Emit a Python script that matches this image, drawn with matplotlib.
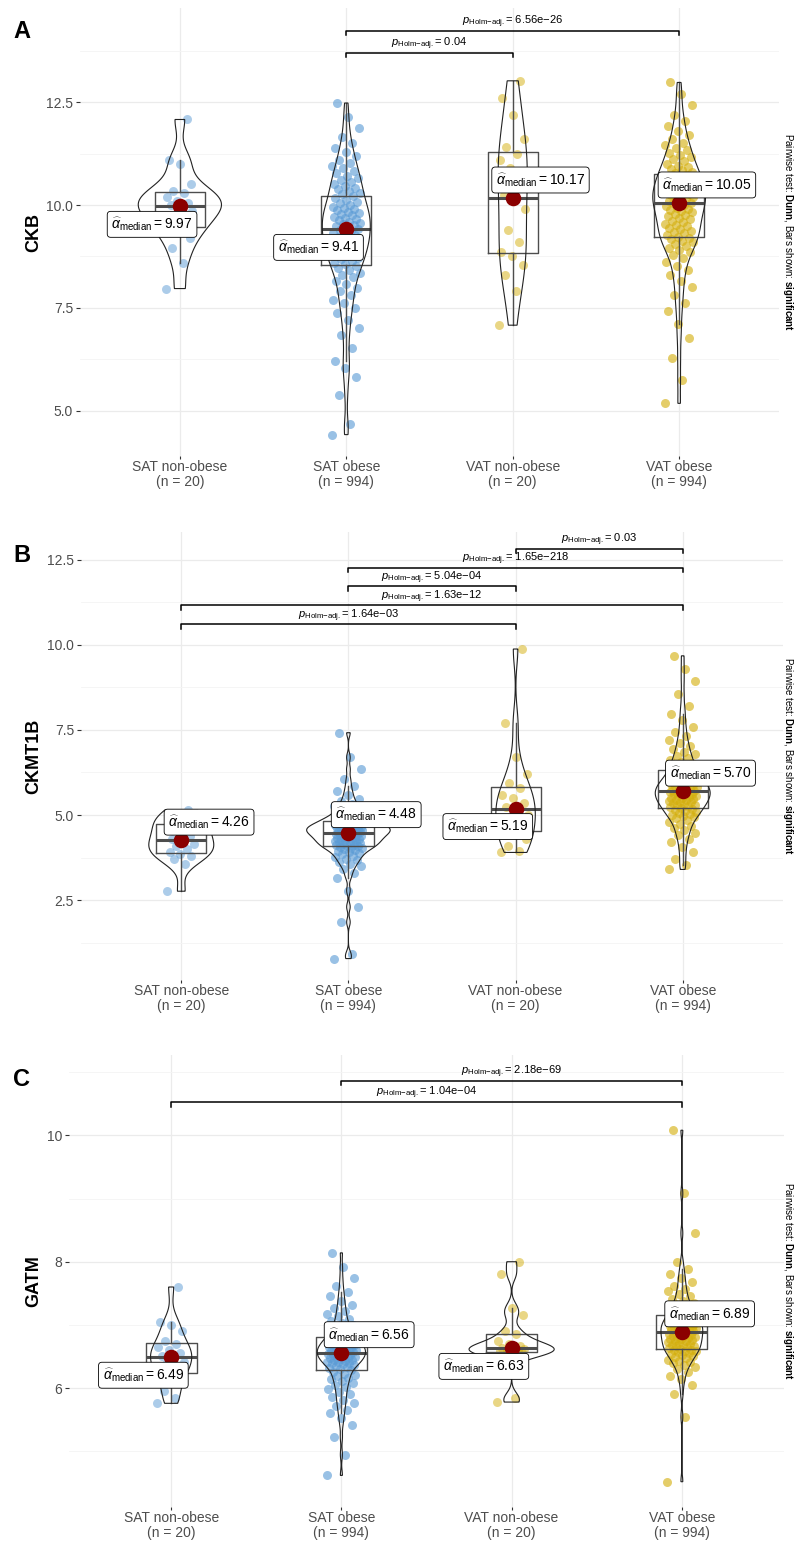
import numpy as np
import matplotlib
matplotlib.use("Agg")
import matplotlib.pyplot as plt
from matplotlib.ticker import MultipleLocator

plt.rcParams['font.family'] = ['Liberation Sans', 'DejaVu Sans']
plt.rcParams['mathtext.fontset'] = 'custom'
plt.rcParams['mathtext.rm'] = 'Liberation Sans'
plt.rcParams['mathtext.it'] = 'Liberation Sans:italic'
plt.rcParams['mathtext.bf'] = 'Liberation Sans:bold'

# DATA

groups = ["SAT non-obese", "SAT obese", "VAT non-obese", "VAT obese"]
group_n = [20, 994, 20, 994]

# CKB (panel A)
ckb_sat_lean = [7.97, 8.60, 8.95, 9.20, 9.40, 9.50, 9.60, 9.75, 9.85, 9.95,
                10.00, 10.05, 10.10, 10.20, 10.30, 10.35, 10.50, 11.00, 11.10, 12.08]
ckb_sat_obese = [4.42, 4.68, 5.38, 5.83, 6.04, 6.21, 6.52, 6.83, 7.02, 7.21,
                 7.38, 7.49, 7.61, 7.70, 7.81, 7.90, 7.99, 8.08, 8.16, 8.24,
                 8.30, 8.36, 8.41, 8.47, 8.52, 8.56, 8.60, 8.64, 8.69, 8.72,
                 8.76, 8.80, 8.84, 8.88, 8.92, 8.95, 8.98, 9.02, 9.05, 9.08,
                 9.11, 9.14, 9.17, 9.20, 9.23, 9.26, 9.29, 9.33, 9.36, 9.40,
                 9.42, 9.45, 9.48, 9.51, 9.54, 9.57, 9.60, 9.63, 9.66, 9.69,
                 9.72, 9.75, 9.78, 9.81, 9.84, 9.87, 9.90, 9.93, 9.96, 10.00,
                 10.04, 10.08, 10.12, 10.16, 10.21, 10.26, 10.30, 10.34, 10.38, 10.42,
                 10.46, 10.51, 10.56, 10.61, 10.66, 10.71, 10.77, 10.83, 10.89, 10.95,
                 11.02, 11.10, 11.19, 11.28, 11.38, 11.50, 11.66, 11.88, 12.15, 12.48]
ckb_vat_lean = [7.08, 7.90, 8.30, 8.55, 8.75, 8.85, 9.10, 9.40, 9.90, 10.10,
                10.25, 10.60, 10.90, 11.10, 11.25, 11.40, 11.60, 12.20, 12.60, 13.02]
ckb_vat_obese = [5.18, 5.75, 6.28, 6.77, 7.10, 7.42, 7.63, 7.82, 8.00, 8.15,
                 8.30, 8.41, 8.52, 8.62, 8.71, 8.79, 8.85, 8.90, 8.95, 9.00,
                 9.05, 9.09, 9.13, 9.17, 9.20, 9.23, 9.27, 9.31, 9.35, 9.38,
                 9.41, 9.45, 9.48, 9.52, 9.55, 9.59, 9.62, 9.66, 9.69, 9.73,
                 9.76, 9.79, 9.82, 9.85, 9.88, 9.91, 9.94, 9.97, 10.00, 10.04,
                 10.06, 10.09, 10.11, 10.14, 10.16, 10.19, 10.21, 10.24, 10.26, 10.29,
                 10.31, 10.34, 10.37, 10.40, 10.43, 10.46, 10.49, 10.52, 10.55, 10.58,
                 10.61, 10.64, 10.68, 10.71, 10.74, 10.78, 10.81, 10.85, 10.88, 10.92,
                 10.96, 11.01, 11.06, 11.11, 11.16, 11.21, 11.27, 11.33, 11.39, 11.45,
                 11.51, 11.60, 11.70, 11.80, 11.92, 12.04, 12.20, 12.42, 12.70, 12.98]
ckb_medians = [9.97, 9.41, 10.17, 10.05]
ckb_pairs = [(1, 2), (1, 3)]
ckb_pvals = ["0.04", "6.56e\u221226"]

# CKMT1B (panel B)
ckmt_sat_lean = [2.76, 3.55, 3.70, 3.80, 3.86, 3.90, 4.00, 4.08, 4.15, 4.22,
                 4.30, 4.38, 4.50, 4.60, 4.72, 4.78, 4.85, 4.95, 5.05, 5.15]
ckmt_sat_obese = [0.78, 0.92, 1.85, 2.30, 2.78, 3.15, 3.30, 3.42, 3.50, 3.57,
                  3.62, 3.67, 3.72, 3.76, 3.80, 3.84, 3.87, 3.91, 3.94, 3.97,
                  4.00, 4.02, 4.04, 4.06, 4.08, 4.09, 4.11, 4.13, 4.15, 4.17,
                  4.19, 4.20, 4.22, 4.23, 4.25, 4.27, 4.28, 4.30, 4.31, 4.33,
                  4.35, 4.36, 4.38, 4.39, 4.41, 4.42, 4.44, 4.45, 4.46, 4.47,
                  4.49, 4.50, 4.51, 4.53, 4.54, 4.55, 4.56, 4.57, 4.58, 4.59,
                  4.61, 4.62, 4.63, 4.64, 4.66, 4.67, 4.68, 4.69, 4.70, 4.71,
                  4.73, 4.75, 4.77, 4.79, 4.81, 4.83, 4.85, 4.86, 4.88, 4.89,
                  4.92, 4.95, 4.98, 5.02, 5.05, 5.09, 5.13, 5.18, 5.22, 5.27,
                  5.33, 5.40, 5.48, 5.58, 5.70, 5.85, 6.05, 6.35, 6.70, 7.42]
ckmt_vat_lean = [3.90, 3.95, 4.10, 4.30, 4.50, 4.55, 4.70, 4.85, 5.00, 5.15,
                 5.23, 5.35, 5.50, 5.60, 5.80, 5.95, 6.20, 6.70, 7.70, 9.88]
ckmt_vat_obese = [3.40, 3.52, 3.72, 3.90, 4.05, 4.20, 4.30, 4.40, 4.48, 4.55,
                  4.62, 4.68, 4.74, 4.80, 4.86, 4.90, 4.94, 4.97, 5.00, 5.03,
                  5.06, 5.09, 5.12, 5.15, 5.18, 5.21, 5.23, 5.26, 5.28, 5.30,
                  5.33, 5.35, 5.37, 5.39, 5.41, 5.43, 5.45, 5.47, 5.49, 5.51,
                  5.53, 5.55, 5.57, 5.59, 5.61, 5.63, 5.65, 5.67, 5.68, 5.69,
                  5.71, 5.73, 5.75, 5.77, 5.79, 5.81, 5.83, 5.85, 5.87, 5.89,
                  5.91, 5.93, 5.96, 5.98, 6.01, 6.03, 6.06, 6.08, 6.11, 6.13,
                  6.16, 6.20, 6.24, 6.28, 6.32, 6.36, 6.40, 6.44, 6.48, 6.52,
                  6.57, 6.62, 6.68, 6.74, 6.80, 6.86, 6.94, 7.02, 7.11, 7.20,
                  7.32, 7.45, 7.60, 7.78, 7.98, 8.20, 8.55, 8.95, 9.30, 9.68]
ckmt_medians = [4.26, 4.48, 5.19, 5.70]
ckmt_pairs = [(0, 2), (0, 3), (1, 2), (1, 3), (2, 3)]
ckmt_pvals = ["1.64e\u221203", "1.63e\u221212", "5.04e\u221204", "1.65e\u2212218", "0.03"]

# GATM (panel C)
gatm_sat_lean = [5.76, 5.85, 5.95, 6.10, 6.20, 6.25, 6.30, 6.38, 6.42, 6.47,
                 6.51, 6.55, 6.60, 6.65, 6.70, 6.75, 6.90, 7.00, 7.05, 7.60]
gatm_sat_obese = [4.62, 4.95, 5.22, 5.42, 5.52, 5.60, 5.66, 5.72, 5.77, 5.81,
                  5.86, 5.90, 5.94, 5.98, 6.02, 6.05, 6.08, 6.11, 6.14, 6.16,
                  6.19, 6.21, 6.23, 6.26, 6.28, 6.30, 6.32, 6.33, 6.35, 6.37,
                  6.38, 6.39, 6.40, 6.41, 6.42, 6.43, 6.44, 6.45, 6.46, 6.47,
                  6.48, 6.49, 6.50, 6.51, 6.52, 6.52, 6.53, 6.54, 6.55, 6.55,
                  6.57, 6.58, 6.58, 6.59, 6.60, 6.61, 6.62, 6.62, 6.63, 6.64,
                  6.65, 6.66, 6.67, 6.68, 6.69, 6.70, 6.71, 6.72, 6.73, 6.74,
                  6.75, 6.76, 6.78, 6.79, 6.80, 6.82, 6.83, 6.85, 6.87, 6.89,
                  6.91, 6.93, 6.95, 6.98, 7.00, 7.03, 7.06, 7.10, 7.14, 7.18,
                  7.22, 7.27, 7.32, 7.38, 7.45, 7.52, 7.62, 7.75, 7.92, 8.14]
gatm_vat_lean = [5.78, 5.85, 6.50, 6.55, 6.57, 6.58, 6.60, 6.60, 6.62, 6.62,
                 6.64, 6.66, 6.70, 6.75, 6.85, 6.90, 7.15, 7.27, 7.80, 8.00]
gatm_vat_obese = [4.52, 5.55, 5.90, 6.05, 6.14, 6.20, 6.25, 6.30, 6.34, 6.37,
                  6.39, 6.41, 6.43, 6.45, 6.47, 6.49, 6.51, 6.52, 6.54, 6.56,
                  6.57, 6.58, 6.59, 6.60, 6.61, 6.62, 6.63, 6.65, 6.66, 6.67,
                  6.68, 6.69, 6.70, 6.71, 6.73, 6.74, 6.75, 6.76, 6.77, 6.78,
                  6.79, 6.80, 6.81, 6.82, 6.83, 6.84, 6.85, 6.86, 6.87, 6.88,
                  6.90, 6.91, 6.92, 6.93, 6.94, 6.95, 6.95, 6.96, 6.97, 6.98,
                  6.99, 7.00, 7.01, 7.02, 7.04, 7.05, 7.06, 7.07, 7.08, 7.09,
                  7.10, 7.12, 7.13, 7.15, 7.16, 7.18, 7.19, 7.21, 7.22, 7.24,
                  7.26, 7.28, 7.30, 7.33, 7.35, 7.38, 7.41, 7.45, 7.49, 7.53,
                  7.57, 7.62, 7.68, 7.74, 7.80, 7.88, 8.00, 8.45, 9.08, 10.08]
gatm_medians = [6.49, 6.56, 6.63, 6.89]
gatm_pairs = [(0, 3), (1, 3)]
gatm_pvals = ["1.04e\u221204", "2.18e\u221269"]

# LAYOUT / STYLE

group_colors = ["#5B9BD5", "#5B9BD5", "#D4AF0D", "#D4AF0D"]
point_alpha = [0.5, 0.62, 0.5, 0.62]
caption = r"Pairwise test: $\bf{Dunn}$, Bars shown: $\bf{significant}$"

panels = [
    dict(letter="A", gene="CKB", data=[ckb_sat_lean, ckb_sat_obese, ckb_vat_lean, ckb_vat_obese],
         medians=ckb_medians, pairs=ckb_pairs, pvals=ckb_pvals,
         rect_px=(80, 8, 779, 456), ylim=(3.9, 14.79), major=2.5, fmt="{:.1f}",
         label_side=[-1, -1, 1, 1]),
    dict(letter="B", gene="CKMT1B", data=[ckmt_sat_lean, ckmt_sat_obese, ckmt_vat_lean, ckmt_vat_obese],
         medians=ckmt_medians, pairs=ckmt_pairs, pvals=ckmt_pvals,
         rect_px=(81, 532, 783, 980), ylim=(0.15, 13.32), major=2.5, fmt="{:.1f}",
         label_side=[1, 1, -1, 1]),
    dict(letter="C", gene="GATM", data=[gatm_sat_lean, gatm_sat_obese, gatm_vat_lean, gatm_vat_obese],
         medians=gatm_medians, pairs=gatm_pairs, pvals=gatm_pvals,
         rect_px=(69, 1055, 784, 1507), ylim=(4.12, 11.27), major=2, fmt="{:.0f}",
         label_side=[-1, 1, -1, 1]),
]

W, H = 796, 1541


def kde(vals, grid, n_total):
    # gaussian kernel, bandwidth like R's bw.nrd0 for the full group size
    v = np.asarray(vals)
    q75, q25 = np.percentile(v, [75, 25])
    bw = 0.9 * min(v.std(ddof=1), (q75 - q25) / 1.34) * n_total ** -0.2
    z = (grid[:, None] - v[None, :]) / bw
    return np.exp(-0.5 * z ** 2).sum(axis=1) / (len(v) * bw * np.sqrt(2 * np.pi))


fig = plt.figure(figsize=(W / 100, H / 100), dpi=100)

for p in panels:
    x0, y0, x1, y1 = p["rect_px"]
    ax = fig.add_axes([x0 / W, 1 - y1 / H, (x1 - x0) / W, (y1 - y0) / H])
    pos = np.arange(1, len(groups) + 1)

    # jittered points
    for i, vals in enumerate(p["data"]):
        idx = np.arange(len(vals))
        jit = ((idx * 0.6180339887) % 1 - 0.5) * 0.17
        ax.scatter(pos[i] + jit, vals, s=42, color=group_colors[i], alpha=point_alpha[i],
                   linewidths=0, zorder=2)

    # boxplots
    ax.boxplot(p["data"], positions=pos, widths=0.3, whis=1.5, showfliers=False,
               showcaps=False, manage_ticks=False,
               boxprops=dict(color="#4D4D4D", lw=1),
               whiskerprops=dict(color="#4D4D4D", lw=1),
               medianprops=dict(color="#4D4D4D", lw=2.2), zorder=3)

    # violins (trimmed, area-scaled, max width 0.5)
    grids = [np.linspace(min(v), max(v), 300) for v in p["data"]]
    dens = [kde(v, g, n) for v, g, n in zip(p["data"], grids, group_n)]
    scale = 0.25 / max(d.max() for d in dens)
    for i, (g, d) in enumerate(zip(grids, dens)):
        xs = np.concatenate([pos[i] - d * scale, (pos[i] + d * scale)[::-1]])
        ys = np.concatenate([g, g[::-1]])
        ax.fill(xs, ys, facecolor="none", edgecolor="#222222", lw=0.8, zorder=4)

    # medians + labels
    for i, med in enumerate(p["medians"]):
        ax.scatter(pos[i], med, s=125, color="#8B0000", zorder=6, linewidths=0)
        s = p["label_side"][i]
        ax.annotate(r"$\widehat{\alpha}_{\mathrm{median}} = " + f"{med:.2f}$",
                    xy=(pos[i], med), xytext=(s * 20, s * 13), textcoords="offset points",
                    ha="center", va="center", fontsize=10, zorder=7,
                    bbox=dict(boxstyle="round,pad=0.3,rounding_size=0.25",
                              fc="white", ec="black", lw=0.6))

    # significance brackets
    all_vals = np.concatenate([np.asarray(v) for v in p["data"]])
    top, rng = all_vals.max(), all_vals.max() - all_vals.min()
    tip = 0.01 * (p["ylim"][1] - p["ylim"][0])
    for k, ((a, b), pv) in enumerate(zip(p["pairs"], p["pvals"])):
        yb = top + rng * (0.08 + 0.061 * k)
        ax.plot([pos[a], pos[a], pos[b], pos[b]], [yb - tip, yb, yb, yb - tip],
                color="black", lw=1.1, zorder=5)
        ax.annotate(r"$p_{\mathrm{Holm{-}adj.}}$= " + pv, xy=((pos[a] + pos[b]) / 2, yb),
                    xytext=(0, 0.5), textcoords="offset points", ha="center", va="bottom",
                    fontsize=8)

    # axes styling
    ax.set_xlim(0.4, 4.6)
    ax.set_ylim(*p["ylim"])
    ax.set_xticks(pos)
    ax.set_xticklabels([f"{g}\n(n = {n})" for g, n in zip(groups, group_n)],
                       fontsize=10, color="#4D4D4D", linespacing=1.1)
    ax.yaxis.set_major_locator(MultipleLocator(p["major"]))
    ax.yaxis.set_minor_locator(MultipleLocator(p["major"] / 2))
    ticks = [t for t in ax.get_yticks() if p["ylim"][0] <= t <= p["ylim"][1]]
    ax.set_yticks(ticks)
    ax.set_yticklabels([p["fmt"].format(t) for t in ticks], fontsize=10, color="#4D4D4D")
    ax.tick_params(axis="y", which="major", length=3, width=0.8, color="#333333", pad=2)
    ax.tick_params(axis="x", which="major", length=2.5, width=0.8, color="#333333", pad=0.5)
    ax.tick_params(which="minor", length=0)
    ax.grid(which="major", color="#EBEBEB", lw=0.9)
    ax.grid(which="minor", axis="y", color="#F4F4F4", lw=0.6)
    ax.set_axisbelow(True)
    for sp in ax.spines.values():
        sp.set_visible(False)

    ax.set_ylabel(p["gene"], fontsize=13, fontweight="bold")
    ax.yaxis.set_label_coords(-(x0 - 42) / (x1 - x0), 0.5)

    fig.text(22 / W, 1 - (y0 + 24) / H, p["letter"], fontsize=17, fontweight="bold",
             ha="center", va="center")
    fig.text(788 / W, 1 - (y0 + y1) / 2 / H, caption, rotation=270, fontsize=7,
             ha="center", va="center")

fig.savefig("out.png", dpi=100)
